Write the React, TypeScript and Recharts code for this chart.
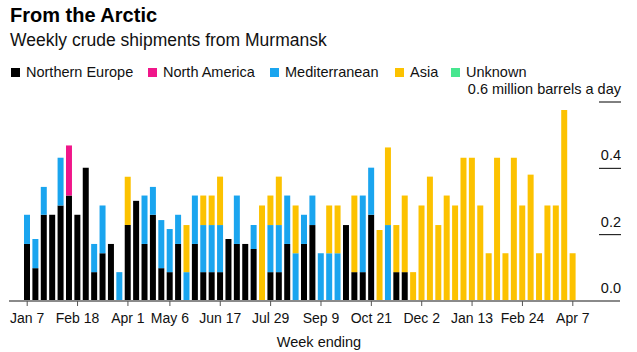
import { Bar, BarChart, XAxis, YAxis } from "recharts";

// week ending dates, Jan 7 2018 .. Apr 7 2019
const weeks = [
  "Jan 7", "Jan 14", "Jan 21", "Jan 28", "Feb 4", "Feb 11", "Feb 18", "Feb 25",
  "Mar 4", "Mar 11", "Mar 18", "Mar 25", "Apr 1", "Apr 8", "Apr 15", "Apr 22",
  "Apr 29", "May 6", "May 13", "May 20", "May 27", "Jun 3", "Jun 10", "Jun 17",
  "Jun 24", "Jul 1", "Jul 8", "Jul 15", "Jul 22", "Jul 29", "Aug 5", "Aug 12",
  "Aug 19", "Aug 26", "Sep 2", "Sep 9", "Sep 16", "Sep 23", "Sep 30", "Oct 7",
  "Oct 14", "Oct 21", "Oct 28", "Nov 4", "Nov 11", "Nov 18", "Nov 25", "Dec 2",
  "Dec 9", "Dec 16", "Dec 23", "Dec 30", "Jan 6", "Jan 13", "Jan 20", "Jan 27",
  "Feb 3", "Feb 10", "Feb 17", "Feb 24", "Mar 3", "Mar 10", "Mar 17", "Mar 24",
  "Mar 31", "Apr 7",
];

// million barrels a day, per destination
const northernEurope = [
  0.172, 0.099, 0.26, 0.26, 0.288, 0.318, 0.26, 0.402, 0.087, 0.144, 0.172, 0,
  0.229, 0.302, 0.172, 0.26, 0.099, 0.087, 0.172, 0, 0.172, 0.087, 0.087, 0.087,
  0.187, 0.172, 0.172, 0.157, 0, 0.087, 0.087, 0.172, 0, 0.172, 0.229, 0,
  0, 0, 0.229, 0.087, 0.087, 0.26, 0, 0, 0.087, 0.087, 0, 0,
  0, 0, 0, 0, 0, 0, 0, 0, 0, 0, 0, 0, 0, 0, 0, 0, 0, 0,
];
const northAmerica = [
  0, 0, 0, 0, 0, 0.151, 0, 0, 0, 0, 0, 0, 0, 0, 0, 0, 0, 0, 0, 0, 0, 0, 0, 0,
  0, 0, 0, 0, 0, 0, 0, 0, 0, 0, 0, 0, 0, 0, 0, 0, 0, 0, 0, 0, 0, 0, 0, 0,
  0, 0, 0, 0, 0, 0, 0, 0, 0, 0, 0, 0, 0, 0, 0, 0, 0, 0,
];
const mediterranean = [
  0.088, 0.088, 0.084, 0, 0.144, 0, 0, 0, 0.085, 0.144, 0, 0.087,
  0, 0, 0.146, 0.084, 0.145, 0.13, 0.088, 0.087, 0.146, 0.142, 0.142, 0.142,
  0, 0.146, 0, 0.072, 0, 0.142, 0.142, 0.146, 0.144, 0.088, 0.089, 0.144,
  0.144, 0.144, 0, 0, 0.231, 0.142, 0, 0.229, 0, 0, 0, 0,
  0, 0, 0, 0, 0, 0, 0, 0, 0, 0, 0, 0, 0, 0, 0, 0, 0, 0,
];
const asia = [
  0, 0, 0, 0, 0, 0, 0, 0, 0, 0, 0, 0,
  0.146, 0, 0, 0, 0, 0, 0, 0.142, 0, 0.089, 0.089, 0.146,
  0, 0, 0, 0, 0.288, 0.089, 0.146, 0, 0.144, 0, 0, 0,
  0.144, 0.144, 0, 0.231, 0, 0, 0.214, 0.234, 0.142, 0.231, 0.087, 0.288,
  0.375, 0.229, 0.318, 0.288, 0.432, 0.432, 0.288, 0.144, 0.432, 0.144, 0.432, 0.288,
  0.381, 0.144, 0.288, 0.288, 0.576, 0.144,
];

const labeledWeeks = [
  "Jan 7", "Feb 18", "Apr 1", "May 6", "Jun 17", "Jul 29", "Sep 9", "Oct 21",
  "Dec 2", "Jan 13", "Feb 24", "Apr 7",
];
const yTicks = [0, 0.2, 0.4, 0.6];

const legendItems = [
  { label: "Northern Europe", color: "#000000", x: 11 },
  { label: "North America", color: "#f0168a", x: 148 },
  { label: "Mediterranean", color: "#1aa5ef", x: 270 },
  { label: "Asia", color: "#fcc200", x: 395 },
  { label: "Unknown", color: "#47e68f", x: 451 },
];

const data = weeks.map((week, i) => ({
  week,
  ne: northernEurope[i],
  na: northAmerica[i],
  med: mediterranean[i],
  asia: asia[i],
}));

const font = "'Liberation Sans', Arial, sans-serif";

function renderYTick(props: any) {
  const { y, payload } = props;
  const v = Number(payload.value);
  const label = v >= 0.6 ? "0.6 million barrels a day" : v.toFixed(1);
  return (
    <g key={`yt-${v}`}>
      {v !== 0 && <line x1={599} x2={621} y1={y} y2={y} stroke="#000" strokeWidth={1} />}
      <text x={621} y={y - 8} textAnchor="end" fontSize={14.5} fill="#111" fontFamily={font}>
        {label}
      </text>
    </g>
  );
}

export default function App() {
  return (
    <div style={{ position: "absolute", left: 0, top: 0, width: 637, height: 352, background: "#fff" }}>
      <BarChart
        width={637}
        height={352}
        data={data}
        margin={{ top: 102, right: 16, bottom: 21, left: 9 }}
      >
        <XAxis
          dataKey="week"
          ticks={labeledWeeks}
          interval={0}
          height={30}
          padding={{ left: 14, right: 43 }}
          axisLine={{ stroke: "#8a8a8a", strokeWidth: 2 }}
          tickLine={{ stroke: "#555" }}
          tickSize={5}
          tickMargin={7}
          tick={{ fill: "#111", fontSize: 14, fontFamily: font }}
        />
        <YAxis
          orientation="right"
          width={1}
          domain={[0, 0.6]}
          ticks={yTicks}
          interval={0}
          axisLine={false}
          tickLine={false}
          tick={renderYTick}
        />
        <Bar dataKey="ne" stackId="a" fill="#000000" barSize={6} isAnimationActive={false} />
        <Bar dataKey="na" stackId="a" fill="#f0168a" barSize={6} isAnimationActive={false} />
        <Bar dataKey="med" stackId="a" fill="#1aa5ef" barSize={6} isAnimationActive={false} />
        <Bar dataKey="asia" stackId="a" fill="#fcc200" barSize={6} isAnimationActive={false} />
      </BarChart>
      <svg
        width={637}
        height={352}
        style={{ position: "absolute", left: 0, top: 0, pointerEvents: "none" }}
        fontFamily={font}
      >
        <text x={10} y={22} fontSize={20} fontWeight="bold" fill="#000">
          From the Arctic
        </text>
        <text x={10} y={46} fontSize={17.5} fill="#111">
          Weekly crude shipments from Murmansk
        </text>
        {legendItems.map((item) => (
          <g key={item.label}>
            <rect x={item.x} y={68} width={9} height={9} fill={item.color} />
            <text x={item.x + 15} y={77} fontSize={14.5} fill="#111">
              {item.label}
            </text>
          </g>
        ))}
        <text x={319} y={347} fontSize={14.5} textAnchor="middle" fill="#111">
          Week ending
        </text>
      </svg>
    </div>
  );
}
